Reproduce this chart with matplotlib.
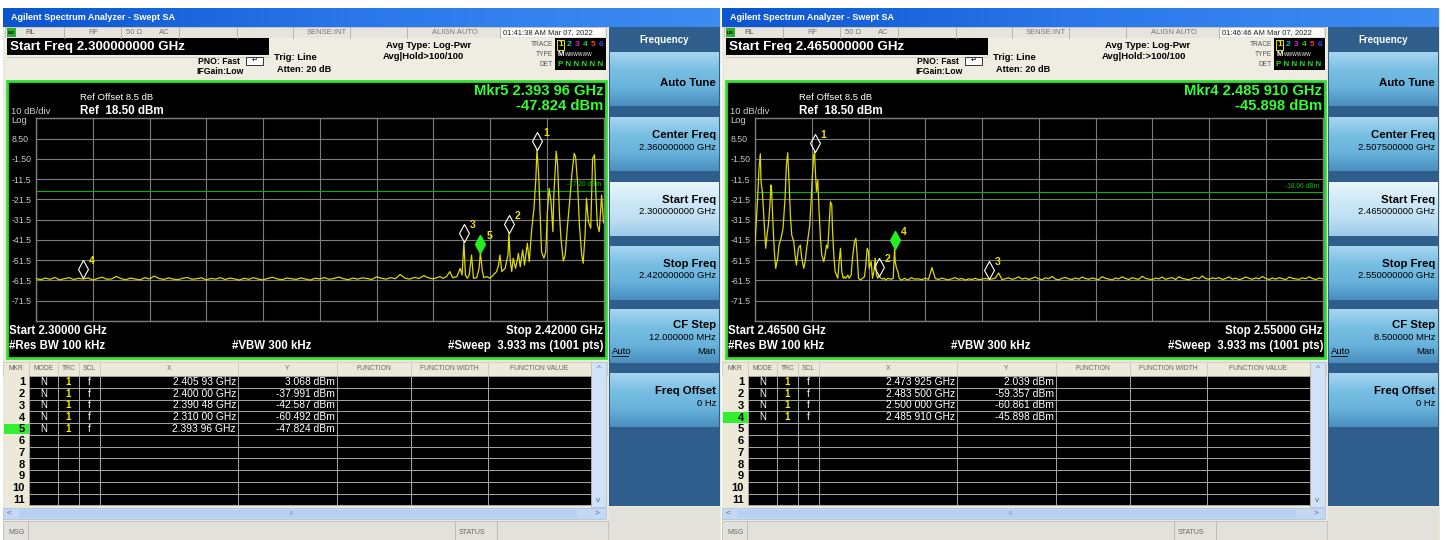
import numpy as np
import matplotlib
matplotlib.use('Agg')
import matplotlib.pyplot as plt
from matplotlib.patches import Rectangle
from matplotlib.colors import LinearSegmentedColormap
from matplotlib.path import Path
import matplotlib.transforms as mtransforms

plt.rcParams['font.family'] = ['Liberation Sans', 'DejaVu Sans']

ref_level = 18.5
db_div = 10
ytick_labels = ['8.50', '-1.50', '-11.5', '-21.5', '-31.5', '-41.5', '-51.5', '-61.5', '-71.5']

# left screen: 2.300 - 2.420 GHz
left_start, left_stop = 2.300, 2.420
left_floor_f0, left_floor_step = 2.300, 0.001
left_floor = [-60.6, -61.2, -60.4, -61.0, -60.1, -61.3, -60.7, -60.2, -61.1, -60.5,
              -60.9, -60.3, -61.4, -60.6, -60.0, -61.0, -60.8, -59.6, -60.7, -61.2,
              -60.4, -60.9, -61.3, -60.2, -60.8, -59.4, -60.6, -61.1, -60.3, -60.9,
              -61.2, -60.5, -60.1, -61.0, -60.7, -60.3, -61.3, -60.6, -60.9, -60.2,
              -61.1, -60.4, -60.8, -61.4, -60.5, -61.0, -60.2, -60.9, -61.3, -60.6,
              -60.0, -60.8, -61.2, -60.4, -60.7, -61.1, -60.3, -60.9, -61.4, -60.5,
              -60.8, -60.2, -61.0, -60.6, -59.9, -60.7, -61.2, -60.4, -60.9, -60.3,
              -60.6, -61.1, -59.8, -60.5, -60.9, -60.2, -60.7, -58.6, -60.4, -60.9,
              -60.1, -60.6, -59.2, -60.3, -60.8, -60.0]
left_peak_f = [2.3854, 2.3861, 2.3868, 2.3875, 2.3881, 2.3890, 2.3897, 2.3901, 2.39048, 2.3908,
               2.3912, 2.3916, 2.3921, 2.3925, 2.3932, 2.3937, 2.39396, 2.3944, 2.3947, 2.3953,
               2.3960, 2.3967, 2.3974, 2.3978, 2.3981, 2.3985, 2.3988, 2.3992, 2.3995, 2.3998,
               2.4000, 2.4003, 2.4006, 2.4009, 2.4014, 2.4017, 2.4020, 2.4024, 2.4029, 2.4033,
               2.4039, 2.4043, 2.4048, 2.4053, 2.4057, 2.40593, 2.4063, 2.4066, 2.4069, 2.4074,
               2.4078, 2.4081, 2.4085, 2.4089, 2.4093, 2.4095, 2.4100, 2.4103, 2.4107, 2.4110,
               2.4115, 2.4119, 2.4124, 2.4129, 2.4133, 2.4138, 2.4141, 2.4145, 2.4149, 2.4154,
               2.4157, 2.4161, 2.4164, 2.4168, 2.4173, 2.4177, 2.4181, 2.4184, 2.4187, 2.4191,
               2.4196, 2.4200]
left_peak_db = [-59.7, -60.5, -59.7, -57.2, -60.2, -59.7, -55.6, -58.9, -42.6, -58.9,
                -60.5, -58.9, -49.0, -60.5, -60.2, -55.6, -47.8, -57.2, -60.2, -59.7,
                -60.5, -58.9, -57.2, -54.0, -49.0, -57.2, -56.4, -55.6, -52.3, -49.0,
                -38.0, -52.3, -57.2, -50.6, -55.6, -52.3, -48.2, -54.8, -46.5, -54.0,
                -43.2, -52.3, -36.7, -26.0, -11.1, 3.07, -9.5, -29.3, -47.4, -50.6,
                -47.4, -29.3, -16.1, -22.7, -37.5, -19.4, 2.3, -4.6, -29.3, -40.8,
                -52.0, -49.0, -34.2, -21.0, -9.5, 1.2, -0.5, -12.8, -34.2, -49.0,
                -53.1, -39.1, -21.0, -32.5, -35.8, -1.3, 0.5, -19.4, -34.2, -37.5,
                -19.4, -33.0]
left_mkr_f = [2.40593, 2.40000, 2.39048, 2.31000, 2.39396]
left_mkr_db = [3.068, -37.991, -42.587, -60.492, -47.824]
left_mkr_x = ['2.405 93 GHz', '2.400 00 GHz', '2.390 48 GHz', '2.310 00 GHz', '2.393 96 GHz']
left_mkr_y = ['3.068 dBm', '-37.991 dBm', '-42.587 dBm', '-60.492 dBm', '-47.824 dBm']
left_active = 5
left_dl = -17.20

# right screen: 2.465 - 2.550 GHz
right_start, right_stop = 2.465, 2.550
right_peak_f = [2.4650, 2.4651, 2.4654, 2.4656, 2.4658, 2.4659, 2.4661, 2.4664, 2.4666, 2.4668,
                2.4670, 2.4672, 2.4674, 2.4675, 2.4677, 2.4679, 2.4681, 2.4684, 2.4686, 2.4689,
                2.4692, 2.4695, 2.4697, 2.4699, 2.4701, 2.4703, 2.4705, 2.4708, 2.4710, 2.4712,
                2.4715, 2.4718, 2.4720, 2.4723, 2.4725, 2.4728, 2.4730, 2.4732, 2.4734, 2.4736,
                2.4738, 2.473925, 2.4740, 2.4742, 2.4744, 2.4746, 2.4748, 2.4750, 2.4753, 2.4755,
                2.4757, 2.4759, 2.4761, 2.4763, 2.4765, 2.4766, 2.4768, 2.4770, 2.4772, 2.4774,
                2.4776, 2.4778, 2.4780, 2.4782, 2.4784, 2.4786, 2.4789, 2.4791, 2.4794, 2.4796,
                2.4799, 2.4801, 2.4803, 2.4805, 2.4808, 2.4811, 2.4814, 2.4816, 2.4818, 2.4820,
                2.4821, 2.4824, 2.4826, 2.4828, 2.4830, 2.4832, 2.4834, 2.4835, 2.4836, 2.4839,
                2.4841, 2.4844, 2.4846, 2.4849, 2.4854, 2.4857, 2.48591, 2.4860, 2.4862, 2.4864,
                2.4866, 2.4869, 2.4874, 2.4879, 2.4884, 2.4889]
right_peak_db = [-44.1, -37.5, -21.0, -6.2, 1.0, -12.8, -17.7, -34.2, -45.7, -39.1,
                 -34.2, -26.0, -14.4, -17.7, -34.2, -47.4, -55.6, -50.6, -44.1, -40.8,
                 -35.8, -21.0, -4.6, 1.5, -12.8, -29.3, -39.1, -42.4, -49.0, -54.0,
                 -45.7, -44.1, -50.6, -55.6, -52.3, -44.1, -39.1, -34.2, -22.7, -9.5,
                 0.4, 2.039, -4.6, -17.7, -12.0, -27.6, -40.8, -49.0, -52.3, -49.0,
                 -44.1, -45.7, -34.2, -22.7, -24.3, -35.8, -49.0, -57.2, -58.9, -60.5,
                 -52.3, -45.7, -57.2, -60.5, -59.7, -60.5, -58.9, -60.5, -58.9, -50.6,
                 -42.4, -40.8, -49.0, -60.5, -61.4, -60.5, -59.7, -54.0, -45.7, -47.4,
                 -55.6, -52.3, -60.5, -57.2, -50.6, -58.9, -60.5, -59.4, -59.7, -60.5,
                 -60.9, -60.5, -61.4, -60.5, -61.0, -60.5, -45.9, -52.3, -55.6, -57.2,
                 -60.5, -61.4, -60.5, -61.4, -60.2, -60.9]
right_floor_f0, right_floor_step = 2.4895, 0.0005
right_floor = [-60.8, -61.2, -60.5, -61.0, -55.2, -60.6, -61.1, -60.4, -60.9, -61.3,
               -60.7, -60.2, -61.0, -60.6, -61.4, -60.8, -61.1, -60.5, -61.2, -60.9,
               -60.6, -60.9, -60.9, -60.4, -57.9, -61.2, -60.7, -60.3, -61.0, -60.6,
               -59.8, -60.9, -60.4, -61.1, -60.5, -59.9, -60.8, -61.2, -60.3, -60.7,
               -59.6, -60.9, -61.3, -60.5, -60.1, -60.8, -61.1, -60.4, -60.9, -59.9,
               -60.6, -61.0, -60.3, -60.8, -61.2, -59.7, -60.5, -60.9, -61.3, -60.4,
               -60.8, -59.8, -60.6, -61.1, -60.2, -60.7, -61.0, -59.5, -60.6, -60.9,
               -61.2, -60.4, -60.8, -59.9, -61.0, -60.5, -60.2, -61.1, -59.7, -60.6,
               -60.9, -61.3, -60.5, -60.1, -60.8, -59.4, -60.6, -61.0, -60.3, -60.7,
               -60.2, -61.1, -60.6, -59.8, -60.9, -60.4, -61.2, -60.7, -59.9, -60.5,
               -61.0, -60.3, -60.8, -59.6, -60.6, -61.1, -60.4, -60.9, -60.2, -60.7,
               -61.2, -59.9, -60.5, -60.8, -61.0, -60.3, -60.7, -59.8, -60.6, -61.1,
               -60.4, -60.8]
right_mkr_f = [2.473925, 2.483500, 2.500000, 2.485910]
right_mkr_db = [2.039, -59.357, -60.861, -45.898]
right_mkr_x = ['2.473 925 GHz', '2.483 500 GHz', '2.500 000 GHz', '2.485 910 GHz']
right_mkr_y = ['2.039 dBm', '-59.357 dBm', '-60.861 dBm', '-45.898 dBm']
right_active = 4
right_dl = -18.06

# texts on each screen
left_text = dict(start_freq='Start Freq 2.300000000 GHz', clock='01:41:38 AM Mar 07, 2022',
                 hold='Avg|Hold>100/100', mkr1='Mkr5 2.393 96 GHz', mkr2='-47.824 dBm',
                 start='Start 2.30000 GHz', stop='Stop 2.42000 GHz',
                 soft=['2.360000000 GHz', '2.300000000 GHz', '2.420000000 GHz', '12.000000 MHz'])
right_text = dict(start_freq='Start Freq 2.465000000 GHz', clock='01:46:46 AM Mar 07, 2022',
                  hold='Avg|Hold:>100/100', mkr1='Mkr4 2.485 910 GHz', mkr2='-45.898 dBm',
                  start='Start 2.46500 GHz', stop='Stop 2.55000 GHz',
                  soft=['2.507500000 GHz', '2.465000000 GHz', '2.550000000 GHz', '8.500000 MHz'])

# ---------------- drawing ----------------
W, H = 1446, 540
fig = plt.figure(figsize=(W / 100, H / 100), dpi=100)
bg = fig.add_axes([0, 0, 1, 1])
bg.set_xlim(0, W)
bg.set_ylim(H, 0)
bg.axis('off')


def rect(x, y, w, h, fc, ec='none', lw=0, z=1):
    bg.add_patch(Rectangle((x, y), w, h, facecolor=fc, edgecolor=ec, lw=lw, zorder=z))


def txt(x, y, s, size=7, color='black', weight='normal', ha='left', va='center', z=5, **kw):
    bg.text(x, y, s, fontsize=size, color=color, fontweight=weight, ha=ha, va=va, zorder=z, **kw)


def grad(x, y, w, h, colors, z=2, horizontal=False):
    img = np.linspace(0, 1, 64).reshape(-1, 1)
    if horizontal:
        img = img.T
    cmap = LinearSegmentedColormap.from_list('g', colors)
    bg.imshow(img, cmap=cmap, extent=(x, x + w, y + h, y), aspect='auto', zorder=z,
              interpolation='bilinear')


diamond = Path([(0, -1), (0.55, 0), (0, 1), (-0.55, 0), (0, -1)],
               [Path.MOVETO, Path.LINETO, Path.LINETO, Path.LINETO, Path.CLOSEPOLY])


def draw_screen(ox, t, peak_f, peak_db, floor_f0, floor_step, floor, f0, f1,
                mkr_f, mkr_db, mkr_x, mkr_y, active, dl):
    # window body
    rect(ox + 3, 8, 718, 532, '#ece9d8', z=0.5)
    # title bar
    grad(ox + 3, 8, 717, 19, ['#0b55d0', '#2a78ea', '#3d8cf2'], horizontal=True)
    txt(ox + 11, 17, 'Agilent Spectrum Analyzer - Swept SA', 6.5, 'white', 'bold')
    # status row
    rect(ox + 5, 27, 601, 11, '#e6e4dc', ec='#b8b6ae', lw=0.5)
    for sx in [64, 121, 179, 237, 293, 350, 407, 500]:
        bg.plot([ox + sx, ox + sx], [27, 38], color='#b0aea6', lw=0.6, zorder=3)
    rect(ox + 7, 28, 9, 9, '#2fae2f', z=3)
    txt(ox + 8, 32.5, 'LXI', 3.2, 'black', 'bold')
    txt(ox + 25, 32.5, 'RL', 5.5, '#555555')
    txt(ox + 88, 32.5, 'RF', 5.5, '#777777')
    txt(ox + 126, 32.5, '50 Ω', 5.5, '#777777')
    txt(ox + 159, 32.5, 'AC', 5.5, '#777777')
    txt(ox + 307, 32.5, 'SENSE:INT', 5.5, '#777777')
    txt(ox + 432, 32.5, 'ALIGN AUTO', 5.5, '#777777')
    rect(ox + 501, 28, 104, 9, '#fbfbf8', z=2)
    txt(ox + 503, 32.5, t['clock'], 5.5, '#222222')
    # header block
    rect(ox + 5, 38, 602, 42, '#efece2', z=1)
    rect(ox + 7, 38, 262, 17, 'black', z=2)
    txt(ox + 10, 47, t['start_freq'], 9.6, 'white', 'bold')
    bg.plot([ox + 7, ox + 269], [57, 57], color='#c8c5ba', lw=0.6, zorder=3)
    txt(ox + 240, 61, 'PNO: Fast', 6.2, 'black', 'bold', ha='right')
    bg.add_patch(Rectangle((ox + 246, 56.5), 17, 8, facecolor='white', edgecolor='#333333',
                           lw=0.7, zorder=3))
    txt(ox + 254.5, 60.5, '↵', 5, 'black', ha='center')
    txt(ox + 244, 71, 'IFGain:Low', 6.2, 'black', 'bold', ha='right')
    txt(ox + 274, 58, 'Trig: Line', 6.8, 'black', 'bold')
    txt(ox + 277, 69, 'Atten: 20 dB', 6.6, 'black', 'bold')
    txt(ox + 386, 45, 'Avg Type: Log-Pwr', 6.8, 'black', 'bold')
    txt(ox + 383, 56.5, t['hold'], 6.8, 'black', 'bold')
    txt(ox + 553, 44, 'TRACE', 4.8, '#555555', ha='right')
    txt(ox + 553, 54.5, 'TYPE', 4.8, '#555555', ha='right')
    txt(ox + 553, 65, 'DET', 4.8, '#555555', ha='right')
    rect(ox + 555, 38, 51, 32, 'black', z=2)
    tcol = ['#e8e800', '#00c8c8', '#d020d0', '#20d020', '#ff3030', '#4040ff']
    for k in range(6):
        txt(ox + 560.5 + k * 8.2, 44.5, str(k + 1), 6, tcol[k], 'bold', ha='center', z=7)
    bg.add_patch(Rectangle((ox + 557, 39.5), 7, 10, facecolor='none', edgecolor='#e8e800',
                           lw=0.7, zorder=6))
    txt(ox + 557.5, 55, 'M', 5.5, 'white', 'bold')
    txt(ox + 565, 55, 'WWWWWW', 3.5, 'white')
    txt(ox + 557.5, 65, 'P N N N N N', 5.8, '#22dd22', 'bold')

    # black trace panel
    rect(ox + 7, 81, 599, 277, 'black', ec='#2fe02f', lw=2, z=2)
    txt(ox + 80, 97, 'Ref Offset 8.5 dB', 6.8, 'white')
    txt(ox + 80, 110.5, 'Ref  18.50 dBm', 8.4, 'white', 'bold')
    txt(ox + 11, 112, '10 dB/div', 6.8, '#cccccc')
    txt(ox + 11, 120.5, 'Log', 6.8, '#cccccc')
    txt(ox + 603, 91, t['mkr1'], 10.6, '#33ff33', 'bold', ha='right')
    txt(ox + 603, 106, t['mkr2'], 10.6, '#33ff33', 'bold', ha='right')
    txt(ox + 9, 331, t['start'], 8.3, 'white', 'bold')
    txt(ox + 603, 331, t['stop'], 8.3, 'white', 'bold', ha='right')
    txt(ox + 9, 346, '#Res BW 100 kHz', 8.3, 'white', 'bold')
    txt(ox + 272, 346, '#VBW 300 kHz', 8.3, 'white', 'bold', ha='center')
    txt(ox + 604, 346, '#Sweep  3.933 ms (1001 pts)', 8.3, 'white', 'bold', ha='right')

    # trace axes
    x0, y0, w, h = ox + 36, 118.3, 567.5, 202.5
    ax = fig.add_axes([x0 / W, 1 - (y0 + h) / H, w / W, h / H])
    ax.set_facecolor('black')
    ax.set_xlim(f0, f1)
    ax.set_ylim(ref_level - 10 * db_div, ref_level)
    ax.set_xticks(np.linspace(f0, f1, 11))
    ax.set_yticks([ref_level - k * db_div for k in range(11)])
    ax.grid(True, color='#7c7c7c', lw=0.8)
    ax.tick_params(length=0, labelbottom=False)
    ax.set_yticklabels([''] + ytick_labels + [''])
    for lab in ax.get_yticklabels():
        lab.set_horizontalalignment('left')
    ax.tick_params(axis='y', pad=17.5, labelsize=6.3, labelcolor='#c8c8c8')
    for sp in ax.spines.values():
        sp.set_color('#7c7c7c')
        sp.set_linewidth(1)
    ff = [floor_f0 + i * floor_step for i in range(len(floor))]
    if floor_f0 < peak_f[0]:
        fx, fy = ff + list(peak_f), list(floor) + list(peak_db)
    else:
        fx, fy = list(peak_f) + ff, list(peak_db) + list(floor)
    ax.plot(fx, fy, color='#dcd800', lw=0.9, zorder=3)
    ax.axhline(dl, color='#00b400', lw=0.8, zorder=2)
    ax.text(0.995, dl + 1.2, '%.2f dBm' % dl, transform=ax.get_yaxis_transform(),
            ha='right', va='bottom', fontsize=4.8, color='#00c000')
    up = mtransforms.offset_copy(ax.transData, fig=fig, x=0, y=9, units='dots')
    for k, (mf, md) in enumerate(zip(mkr_f, mkr_db)):
        if k + 1 == active:
            ax.plot(mf, md, marker=diamond, ms=13, mfc='#22ee22', mec='#22ee22',
                    transform=up, zorder=5, clip_on=False)
        else:
            ax.plot(mf, md, marker=diamond, ms=13, mfc='none', mec='white', mew=0.8,
                    transform=up, zorder=5, clip_on=False)
        ax.annotate(str(k + 1), (mf, md), xytext=(6, 17), textcoords='offset pixels',
                    color='#f0e000', fontsize=7.5, fontweight='bold', ha='left',
                    va='center', zorder=6)

    # marker table
    cols = [3, 29, 58, 79, 100, 238, 337, 411, 488, 591]
    heads = ['MKR', 'MODE', 'TRC', 'SCL', 'X', 'Y', 'FUNCTION', 'FUNCTION WIDTH',
             'FUNCTION VALUE']
    rect(ox + 3, 362, 604, 14, '#ece9d8', ec='#c8c5ba', lw=0.5, z=2)
    for i, hd in enumerate(heads):
        txt(ox + (cols[i] + cols[i + 1]) / 2, 369, hd, 4.9, '#666666', ha='center')
        bg.plot([ox + cols[i + 1]] * 2, [363, 376], color='#c8c5ba', lw=0.6, zorder=3)
    row_h = 11.75
    rect(ox + 3, 376, 26, 11 * row_h, '#ece9d8', z=2)
    rect(ox + 29, 376, 562, 11 * row_h, 'black', z=2)
    for r in range(12):
        yy = 376 + r * row_h
        bg.plot([ox + 29, ox + 591], [yy, yy], color='#a8a8a8', lw=0.7, zorder=3)
    for c in cols[1:]:
        bg.plot([ox + c] * 2, [376, 376 + 11 * row_h], color='#a8a8a8', lw=0.7, zorder=3)
    for r in range(11):
        yc = 376 + (r + 0.5) * row_h
        if r + 1 == active:
            rect(ox + 4, 376 + r * row_h + 0.6, 24.5, row_h - 1, '#33ee33', z=3)
        txt(ox + 25, yc + 0.5, str(r + 1), 8, 'black', 'bold', ha='right')
        if r < len(mkr_x):
            txt(ox + 43.5, yc, 'N', 7, 'white', ha='center')
            txt(ox + 68.5, yc, '1', 7, '#f0f000', 'bold', ha='center')
            txt(ox + 89.5, yc, 'f', 7, 'white', ha='center')
            txt(ox + 236, yc, mkr_x[r], 7.4, 'white', ha='right')
            txt(ox + 335, yc, mkr_y[r], 7.4, 'white', ha='right')
    # scrollbars
    rect(ox + 591, 362, 15, 145, '#d2e2f6', ec='#a8bedc', lw=0.5, z=2)
    txt(ox + 598.5, 369, '^', 6, '#4a6a9a', ha='center')
    txt(ox + 598.5, 500, 'v', 6, '#4a6a9a', ha='center')
    rect(ox + 3, 508, 603, 11, '#c4d8f4', ec='#a8bedc', lw=0.5, z=2)
    rect(ox + 19, 509.5, 558, 8, '#b6d0f2', z=3)
    txt(ox + 9, 513.5, '<', 6, '#4a6a9a', ha='center')
    txt(ox + 597, 513.5, '>', 6, '#4a6a9a', ha='center')
    txt(ox + 292, 513.5, 'III', 4, '#8aa0c0', ha='center')
    # message bar
    rect(ox + 3, 521, 605, 19, '#e2e1dc', ec='#b8b6ae', lw=0.5, z=2)
    for sx in [28, 455, 497]:
        bg.plot([ox + sx] * 2, [521, 540], color='#b8b6ae', lw=0.6, zorder=3)
    txt(ox + 8, 532, 'MSG', 5, '#666666')
    txt(ox + 459, 532, 'STATUS', 5, '#666666')

    # soft key panel
    rect(ox + 609, 27, 111, 479, '#2f5e8c', z=2)
    rect(ox + 609, 507, 111, 33, '#e2e1dc', z=2)
    txt(ox + 664, 40, 'Frequency', 7, 'white', 'bold', ha='center')
    keys = [(52, 'Auto Tune', None), (117, 'Center Freq', t['soft'][0]),
            (182, 'Start Freq', t['soft'][1]), (246, 'Stop Freq', t['soft'][2]),
            (309, 'CF Step', t['soft'][3]), (373, 'Freq Offset', '0 Hz')]
    for yk, name, val in keys:
        if name == 'Start Freq':
            cl = ['#eaf6fc', '#cfe9f6', '#bfe0f2', '#9ccbe6']
        else:
            cl = ['#a6d5ee', '#78bee3', '#68b2db', '#4a8ebf']
        grad(ox + 610, yk, 109, 54, cl, z=3)
        if val is None:
            txt(ox + 716, yk + 31, name, 8.2, 'black', 'bold', ha='right')
        elif name == 'CF Step':
            txt(ox + 716, yk + 16, name, 8.2, 'black', 'bold', ha='right')
            txt(ox + 716, yk + 28, val, 6.8, 'black', ha='right')
            txt(ox + 612, yk + 42, 'Auto', 6.8, 'black', ha='left')
            bg.plot([ox + 612, ox + 628], [yk + 47, yk + 47], color='black', lw=0.6, zorder=6)
            txt(ox + 716, yk + 42, 'Man', 6.8, 'black', ha='right')
        else:
            txt(ox + 716, yk + 18, name, 8.2, 'black', 'bold', ha='right')
            txt(ox + 716, yk + 30, val, 6.8, 'black', ha='right')


draw_screen(0, left_text, left_peak_f, left_peak_db, left_floor_f0, left_floor_step,
            left_floor, left_start, left_stop, left_mkr_f, left_mkr_db, left_mkr_x,
            left_mkr_y, left_active, left_dl)
draw_screen(719, right_text, right_peak_f, right_peak_db, right_floor_f0, right_floor_step,
            right_floor, right_start, right_stop, right_mkr_f, right_mkr_db, right_mkr_x,
            right_mkr_y, right_active, right_dl)

bg.set_xlim(0, W)
bg.set_ylim(H, 0)
fig.savefig('out.png', dpi=100, facecolor='white')
